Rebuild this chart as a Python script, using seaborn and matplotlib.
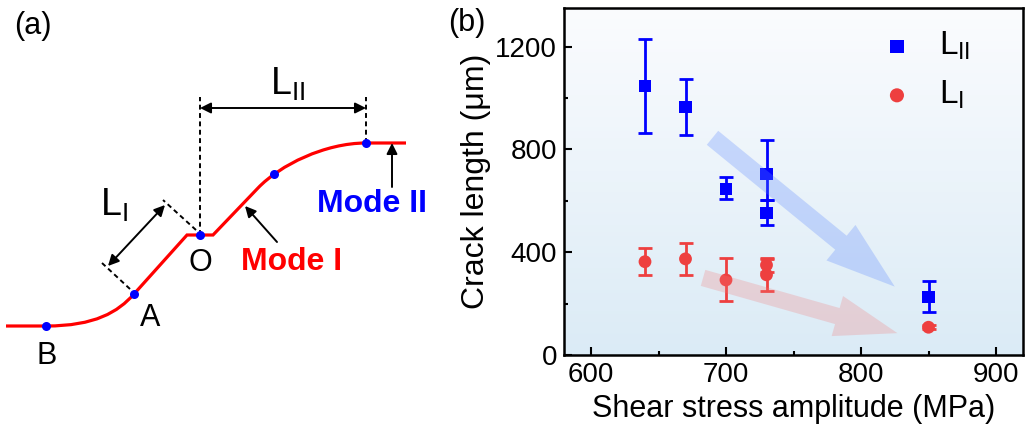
import numpy as np
import pandas as pd
import matplotlib
matplotlib.use("Agg")
import matplotlib.pyplot as plt
import seaborn as sns
from matplotlib.path import Path
from matplotlib.patches import PathPatch
from matplotlib.colors import LinearSegmentedColormap
from matplotlib.ticker import MultipleLocator

# ---------------- data (panel b) ----------------
stress_LII = [640, 670, 700, 730, 730, 850]
length_LII = [1045, 964, 647, 703, 554, 227]
LII_err_lo = [180, 108, 42, 100, 50, 60]
LII_err_hi = [183, 108, 45, 135, 50, 60]

stress_LI = [640, 670, 700, 730, 730, 850]
length_LI = [363, 374, 292, 350, 312, 108]
LI_err_lo = [50, 64, 82, 28, 62, 8]
LI_err_hi = [53, 62, 84, 28, 62, 8]

x_ticks = [600, 700, 800, 900]
y_ticks = [0, 400, 800, 1200]
x_label = "Shear stress amplitude (MPa)"
y_label = "Crack length (\u03bcm)"
series_labels = [r"L$_{\rm II}$", r"L$_{\rm I}$"]

BLUE = "#0000ff"
RED = "#ee3f3f"

sns.set_theme(style="ticks")
plt.rcParams["font.family"] = ["Liberation Sans", "DejaVu Sans"]
plt.rcParams["mathtext.fontset"] = "custom"
plt.rcParams["mathtext.rm"] = "Liberation Sans"
plt.rcParams["mathtext.it"] = "Liberation Sans:italic"
plt.rcParams["mathtext.bf"] = "Liberation Sans:bold"
for k in ["text.color", "axes.labelcolor", "xtick.color", "ytick.color", "axes.edgecolor"]:
    plt.rcParams[k] = "black"

W, H = 1027, 437
fig = plt.figure(figsize=(W / 100, H / 100), dpi=100)

# ---------------- panel (a): schematic in pixel coordinates ----------------
axa = fig.add_axes([0, 0, 1, 1], zorder=0)
axa.set_xlim(0, W)
axa.set_ylim(H, 0)
axa.axis("off")
axa.patch.set_visible(False)

verts = [(6, 326), (46, 326),
         (95, 326), (118, 312), (134, 294),
         (187, 235), (213, 235), (258, 188),
         (280, 165), (325, 143), (366, 143),
         (406, 143)]
codes = [Path.MOVETO, Path.LINETO,
         Path.CURVE4, Path.CURVE4, Path.CURVE4,
         Path.LINETO, Path.LINETO, Path.LINETO,
         Path.CURVE4, Path.CURVE4, Path.CURVE4,
         Path.LINETO]
axa.add_patch(PathPatch(Path(verts, codes), fill=False, ec="#ff0000", lw=2.3,
                        capstyle="butt", joinstyle="miter"))


def bez(p0, p1, p2, p3, t):
    p0, p1, p2, p3 = map(np.array, (p0, p1, p2, p3))
    return ((1 - t) ** 3) * p0 + 3 * ((1 - t) ** 2) * t * p1 + 3 * (1 - t) * t * t * p2 + t ** 3 * p3


pmid = bez((258, 188), (280, 165), (325, 143), (366, 143), 0.2)
dots = [(46, 326), (134, 294), (200, 235), tuple(pmid), (366, 143)]
axa.plot([d[0] for d in dots], [d[1] for d in dots], "o", color="#0000ff",
         ms=6.5, mec="none", zorder=5)

dash = dict(color="black", lw=1.4, ls=(0, (2.5, 1.8)))
axa.plot([200, 200], [235, 97], **dash)
axa.plot([366, 366], [143, 97], **dash)
axa.plot([130, 102], [289, 263], **dash)
axa.plot([196, 163], [230, 200], **dash)

arr = dict(arrowstyle="<|-|>", color="black", lw=1.4, mutation_scale=16,
           shrinkA=0, shrinkB=0)
axa.annotate("", xy=(366, 108), xytext=(200, 108), arrowprops=arr)
axa.annotate("", xy=(165, 205), xytext=(108, 266), arrowprops=arr)
one = dict(arrowstyle="-|>", color="black", lw=1.4, mutation_scale=16,
           shrinkA=0, shrinkB=0)
axa.annotate("", xy=(245, 206), xytext=(277, 242), arrowprops=one)
axa.annotate("", xy=(392, 143), xytext=(392, 187), arrowprops=one)

axa.text(287, 84, r"L$_{\rm II}$", fontsize=27, ha="center", va="center")
axa.text(114, 205, r"L$_{\rm I}$", fontsize=27, ha="center", va="center")
axa.text(200, 263, "O", fontsize=22, ha="center", va="center")
axa.text(150, 318, "A", fontsize=22, ha="center", va="center")
axa.text(47, 356, "B", fontsize=22, ha="center", va="center")
axa.text(292, 262, "Mode I", fontsize=23, fontweight="bold", color="#ff0000",
         ha="center", va="center")
axa.text(372, 204, "Mode II", fontsize=23, fontweight="bold", color="#0000ff",
         ha="center", va="center")
axa.text(33, 26, "(a)", fontsize=22, ha="center", va="center")
axa.text(467, 23, "(b)", fontsize=22, ha="center", va="center")

# ---------------- panel (b) ----------------
ax = fig.add_axes([564 / W, 1 - 355 / H, (1023 - 564) / W, (355 - 8) / H], zorder=2)

cmap = LinearSegmentedColormap.from_list("bg", ["#dbebf6", "#fbfcfe"])
ax.imshow(np.linspace(0, 1, 256).reshape(-1, 1), extent=[0, 1, 0, 1],
          transform=ax.transAxes, aspect="auto", cmap=cmap, origin="lower", zorder=0)

df_II = pd.DataFrame({"stress": stress_LII, "length": length_LII})
df_I = pd.DataFrame({"stress": stress_LI, "length": length_LI})

ax.errorbar(stress_LII, length_LII, yerr=[LII_err_lo, LII_err_hi], fmt="none",
            ecolor=BLUE, elinewidth=2, capsize=5, capthick=2, zorder=3)
ax.errorbar(stress_LI, length_LI, yerr=[LI_err_lo, LI_err_hi], fmt="none",
            ecolor=RED, elinewidth=2, capsize=5, capthick=2, zorder=3)
sns.scatterplot(data=df_II, x="stress", y="length", marker="s", s=75, color=BLUE,
                edgecolor="none", ax=ax, zorder=4, label=series_labels[0])
sns.scatterplot(data=df_I, x="stress", y="length", marker="o", s=85, color=RED,
                edgecolor="none", ax=ax, zorder=4, label=series_labels[1])

# trend arrows
ax.annotate("", xy=(825, 266), xytext=(690, 845),
            arrowprops=dict(arrowstyle="simple,head_length=5.0,head_width=3.3,tail_width=1.3",
                            mutation_scale=10, fc="#5a86ff", ec="none", alpha=0.28,
                            shrinkA=0, shrinkB=0), zorder=5)
ax.annotate("", xy=(827, 85), xytext=(683, 300),
            arrowprops=dict(arrowstyle="simple,head_length=4.5,head_width=3.0,tail_width=1.2",
                            mutation_scale=10, fc="#f27a7a", ec="none", alpha=0.26,
                            shrinkA=0, shrinkB=0), zorder=5)

ax.set_xlim(580, 920)
ax.set_ylim(0, 1350)
ax.set_xticks(x_ticks)
ax.set_yticks(y_ticks)
ax.xaxis.set_minor_locator(MultipleLocator(50))
ax.yaxis.set_minor_locator(MultipleLocator(200))
ax.tick_params(which="both", direction="in", width=1.5, colors="black",
               labelsize=20, pad=5)
ax.tick_params(which="major", length=6)
ax.tick_params(which="minor", length=3)
for s in ax.spines.values():
    s.set_linewidth(1.8)
    s.set_color("black")
ax.set_xlabel(x_label, fontsize=22, labelpad=4)
ax.set_ylabel(y_label, fontsize=23, labelpad=3)

leg = ax.legend(loc="upper left", bbox_to_anchor=(0.66, 0.975), frameon=False,
                fontsize=24, handlelength=1.0, handletextpad=0.75, labelspacing=0.5,
                markerscale=1.1, borderaxespad=0)

fig.savefig("out.png", dpi=100)
